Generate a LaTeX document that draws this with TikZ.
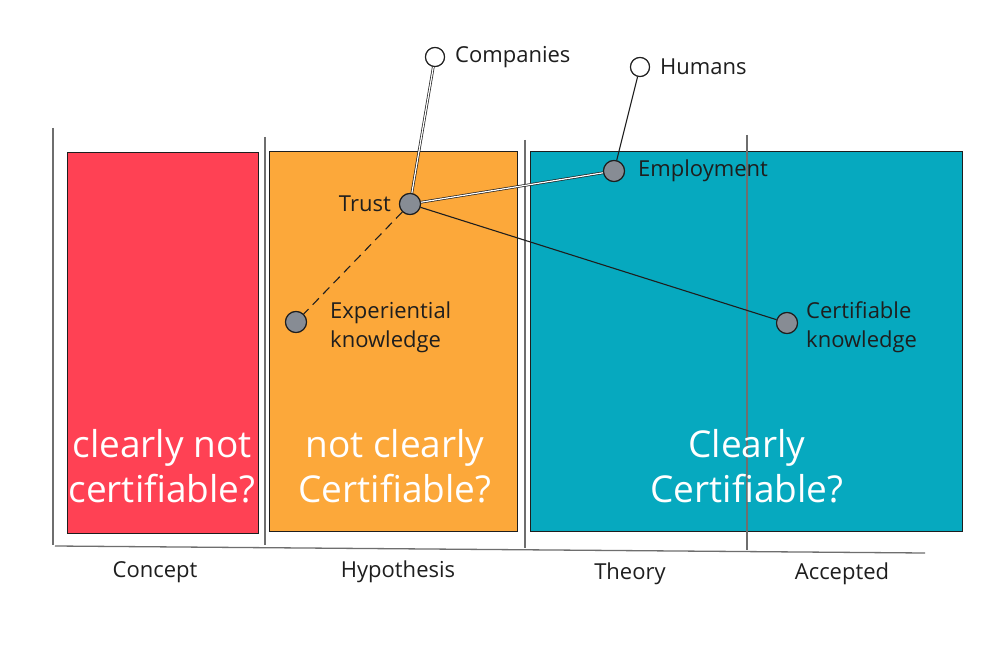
\documentclass[tikz,border=0pt]{standalone}
\usepackage{fontspec}
\setmainfont{Open Sans}
\definecolor{zred}{HTML}{FF4154}
\definecolor{zorange}{HTML}{FCA83A}
\definecolor{zteal}{HTML}{06A9BF}
\definecolor{dotgray}{HTML}{878C94}
\definecolor{axisgray}{HTML}{6E6E6E}
\definecolor{ink}{HTML}{1E1E1E}
\begin{document}
\begin{tikzpicture}[x=1pt,y=-1pt,
  axis/.style={draw=axisgray, line width=1.3pt},
  zone/.style={draw=ink, line width=1pt},
  dot/.style={circle, draw=ink, fill=dotgray, line width=1.1pt, minimum size=21pt, inner sep=0pt},
  hollow/.style={circle, draw=ink, fill=white, line width=1.1pt, minimum size=19pt, inner sep=0pt},
  lbl/.style={font=\fontsize{22}{29}\selectfont, text=ink, inner sep=0pt},
  big/.style={font=\fontsize{37}{45}\selectfont, text=white, align=center, inner sep=0pt},
  link/.style={draw=ink, line width=1.1pt},
  dlink/.style={draw=ink, line width=0.7pt, double=white, double distance=1.2pt}
]
\useasboundingbox (0,0) rectangle (1006,663);
\fill[white] (0,0) rectangle (1006,663);

% zones
\draw[zone, fill=zred] (67,153) rectangle (258,533);
\draw[zone, fill=zorange] (269,152) rectangle (517,531);
\draw[zone, fill=zteal] (530,152) rectangle (962,531);

% axes
\draw[axis] (53,128) -- (53,545);
\draw[axis] (265,137) -- (265,545);
\draw[axis] (525,140) -- (525,548);
\draw[axis] (747,135) -- (747,550);
\draw[axis] (55,546) -- (925,553);

% axis labels
\node[lbl] (concept) at (155,572) {Concept};
\node[lbl] (hypothesis) at (398,572) {Hypothesis};
\node[lbl] (theory) at (630,574) {Theory};
\node[lbl] (accepted) at (842,574) {Accepted};

% zone texts
\node[big] (t1) at (162,466) {clearly not\\certifiable?};
\node[big] (t2) at (395,466) {not clearly\\Certifiable?};
\node[big] (t3) at (747,466) {Clearly\\Certifiable?};

% nodes
\node[hollow] (companies) at (435,57) {};
\node[hollow] (humans) at (640,67) {};
\node[dot] (trust) at (410,204) {};
\node[dot] (employment) at (614,171) {};
\node[dot] (experiential) at (296,322) {};
\node[dot] (certifiable) at (787,323) {};

% connectors
\draw[dlink] (companies) -- (trust);
\draw[link] (humans) -- (employment);
\draw[dlink] (trust) -- (employment);
\draw[link, dashed, dash pattern=on 9pt off 6pt] (trust) -- (experiential);
\draw[link] (trust) -- (certifiable);

% redraw dots on top
\node[hollow] at (companies) {};
\node[hollow] at (humans) {};
\node[dot] at (trust) {};
\node[dot] at (employment) {};
\node[dot] at (experiential) {};
\node[dot] at (certifiable) {};

% labels
\node[lbl, anchor=west] (lcompanies) at (455,57) {Companies};
\node[lbl, anchor=west] (lhumans) at (660,67) {Humans};
\node[lbl, anchor=east] (ltrust) at (391,204) {Trust};
\node[lbl, anchor=west] (lemployment) at (638,171) {Employment};
\node[lbl, anchor=west, align=left] (lexperiential) at (330,327) {Experiential\\knowledge};
\node[lbl, anchor=west, align=left] (lcertifiable) at (806,327) {Certifiable\\knowledge};
\end{tikzpicture}
\end{document}
